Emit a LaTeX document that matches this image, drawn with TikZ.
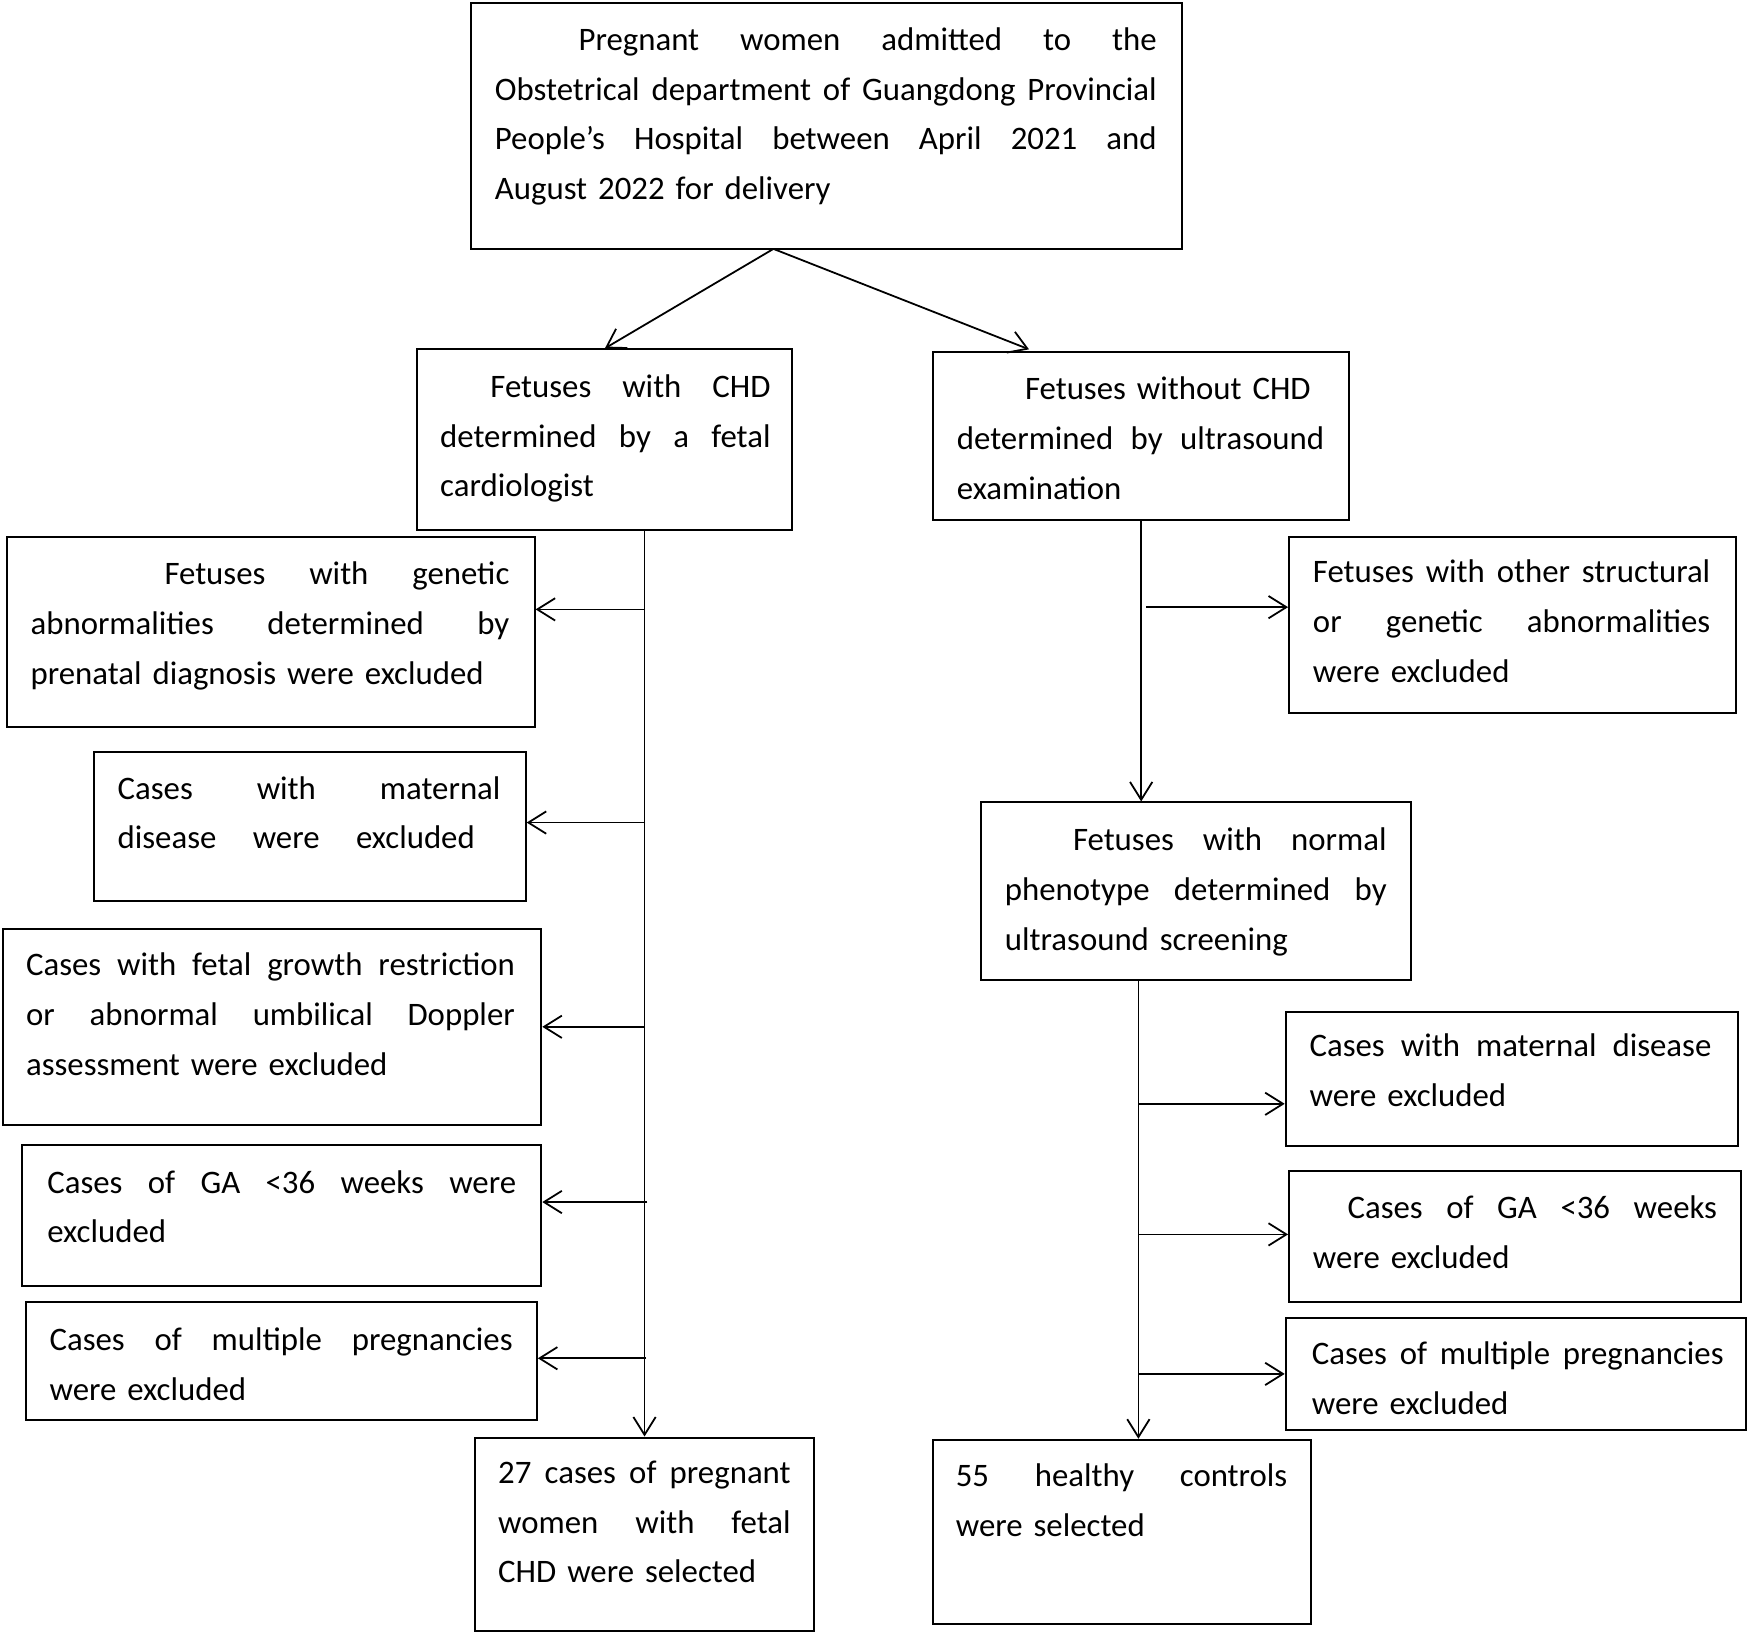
\documentclass[tikz,border=0pt]{standalone}
\usepackage{fontspec}
\setmainfont{Carlito}
\usetikzlibrary{arrows.meta,fit}
\newcommand\jl[2]{\leavevmode\hbox to #1pt{\spaceskip=\fontdimen2\font plus 1fil\relax #2}}
\begin{document}
\begin{tikzpicture}[x=0.5pt,y=-0.5pt,
  box/.style={draw, line width=0.9pt, inner sep=0pt},
  txt/.style={anchor=base west, inner sep=0pt, align=left, font=\fontsize{14.7}{22.3}\selectfont},
  arr/.style={line width=0.8pt, -{Straight Barb[length=8pt,width=10pt,line width=0.8pt]}}]
\useasboundingbox (0,0) rectangle (1568,1464);
% boxes
\node[box, fit={(422,3)(1059,223)}] (top) {};
\node[box, fit={(374,313)(710,475)}] (c2) {};
\node[box, fit={(836,315)(1209,466)}] (c3) {};
\node[box, fit={(6,481)(479,651)}] (e1) {};
\node[box, fit={(84,674)(471,807)}] (e2) {};
\node[box, fit={(3,832)(485,1008)}] (e3) {};
\node[box, fit={(20,1026)(485,1152)}] (e4) {};
\node[box, fit={(23,1167)(481,1272)}] (e5) {};
\node[box, fit={(426,1288)(729,1461)}] (f1) {};
\node[box, fit={(1155,481)(1555,639)}] (r1) {};
\node[box, fit={(879,719)(1264,878)}] (mid) {};
\node[box, fit={(1152,907)(1557,1027)}] (r2) {};
\node[box, fit={(1155,1049)(1560,1167)}] (r3) {};
\node[box, fit={(1152,1181)(1564,1281)}] (r4) {};
\node[box, fit={(836,1290)(1175,1455)}] (f2) {};
% texts
\node[txt, text width=296.5pt] (topt) at (443,45) {\hspace*{37.5pt}\jl{259}{Pregnant women admitted to the}\\\jl{296.5}{Obstetrical department of Guangdong Provincial}\\\jl{296.5}{People’s Hospital between April 2021 and}\\August 2022 for delivery};
\node[txt, text width=148pt] (c2t) at (394,356) {\hspace*{22.5pt}\jl{125.5}{Fetuses with CHD}\\\jl{148}{determined by a fetal}\\cardiologist};
\node[txt, text width=164.5pt] (c3t) at (857,358) {\hspace*{30.5pt}Fetuses without CHD\\\jl{164.5}{determined by ultrasound}\\examination};
\node[txt, text width=214.5pt] (e1t) at (27,524) {\hspace*{60pt}\jl{154.5}{Fetuses with genetic}\\\jl{214.5}{abnormalities determined by}\\prenatal diagnosis were excluded};
\node[txt, text width=171.5pt] (e2t) at (105,716) {\jl{171.5}{Cases with maternal}\\\jl{160}{disease were excluded}};
\node[txt, text width=219pt] (e3t) at (23,874) {\jl{219}{Cases with fetal growth restriction}\\\jl{219}{or abnormal umbilical Doppler}\\assessment were excluded};
\node[txt, text width=210pt] (e4t) at (42,1069) {\jl{210}{Cases of GA <36 weeks were}\\excluded};
\node[txt, text width=207.5pt] (e5t) at (44,1210) {\jl{207.5}{Cases of multiple pregnancies}\\were excluded};
\node[txt, text width=131pt] (f1t) at (446,1329) {\jl{131}{27 cases of pregnant}\\\jl{131}{women with fetal}\\CHD were selected};
\node[txt, text width=178pt] (r1t) at (1176,522) {\jl{178}{Fetuses with other structural}\\\jl{178}{or genetic abnormalities}\\were excluded};
\node[txt, text width=171pt] (midt) at (900,762) {\hspace*{30.5pt}\jl{140.5}{Fetuses with normal}\\\jl{171}{phenotype determined by}\\ultrasound screening};
\node[txt, text width=180pt] (r2t) at (1173,947) {\jl{180}{Cases with maternal disease}\\were excluded};
\node[txt, text width=181pt] (r3t) at (1176,1092) {\hspace*{15.5pt}\jl{165.5}{Cases of GA <36 weeks}\\were excluded};
\node[txt, text width=184.5pt] (r4t) at (1175,1223) {\jl{184.5}{Cases of multiple pregnancies}\\were excluded};
\node[txt, text width=148.5pt] (f2t) at (856,1332) {\jl{148.5}{55 healthy controls}\\were selected};
% connectors
\coordinate (sp) at (693,223);
\coordinate (rt) at (922,313);
\draw[arr] (sp) -- (c2.north);
\draw[arr] (sp) -- (rt);
\draw[arr] (c2.south -| f1.north) -- (f1.north);
\coordinate (t1) at (578,546);
\coordinate (t2) at (578,737);
\coordinate (t3) at (578,920);
\coordinate (t4) at (580,1077);
\coordinate (t5) at (579,1217);
\draw[arr] (t1) -- (t1 -| e1.east);
\draw[arr] (t2) -- (t2 -| e2.east);
\draw[arr] (t3) -- (t3 -| e3.east);
\draw[arr] (t4) -- (t4 -| e4.east);
\draw[arr] (t5) -- (t5 -| e5.east);
\draw[arr] (c3.south) -- (c3.south |- mid.north);
\coordinate (q0) at (1027,544);
\draw[arr] (q0) -- (q0 -| r1.west);
\coordinate (rtop) at (1020,878);
\draw[arr] (rtop) -- (rtop |- f2.north);
\coordinate (q2) at (1020,989);
\coordinate (q3) at (1020,1106);
\coordinate (q4) at (1020,1231);
\draw[arr] (q2) -- (q2 -| r2.west);
\draw[arr] (q3) -- (q3 -| r3.west);
\draw[arr] (q4) -- (q4 -| r4.west);
\end{tikzpicture}
\end{document}
